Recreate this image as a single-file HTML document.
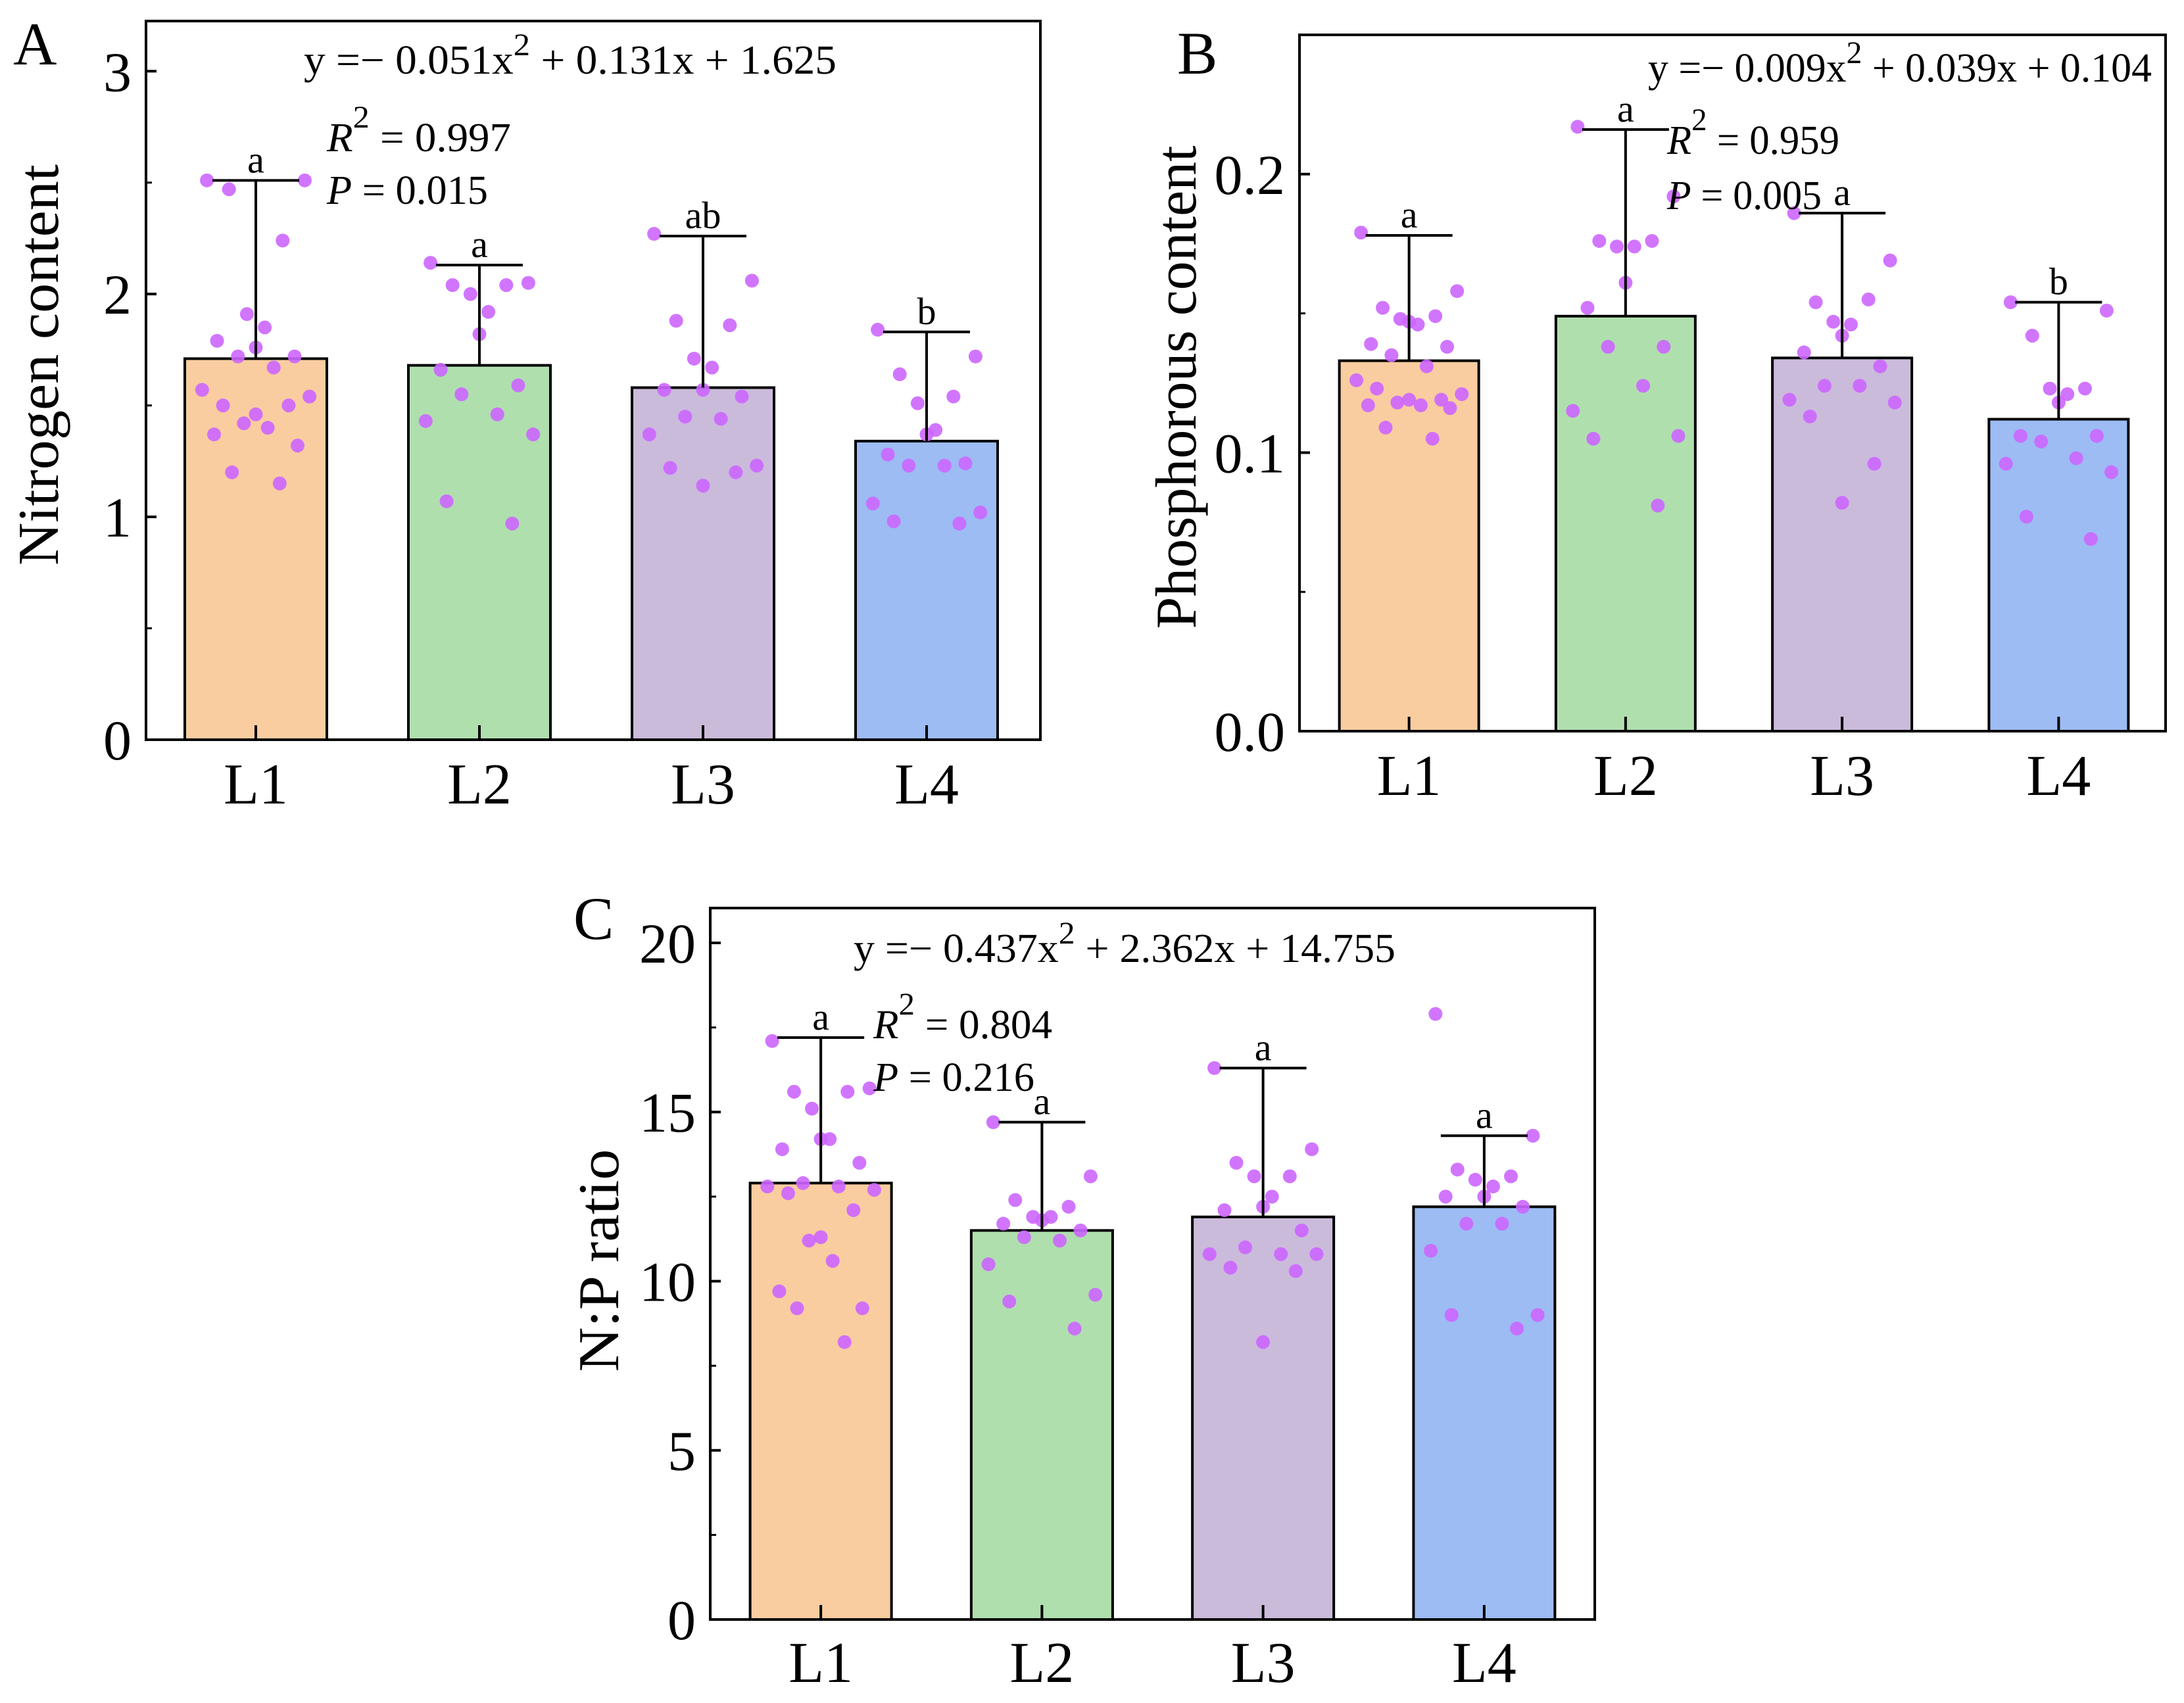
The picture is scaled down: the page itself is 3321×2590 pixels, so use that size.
<!DOCTYPE html>
<html><head><meta charset="utf-8"><style>
html,body{margin:0;padding:0;background:#fff;}
svg{display:block;font-family:"Liberation Serif",serif;}
</style></head><body>
<svg id="fig" width="3321" height="2590" viewBox="0 0 3321 2590" xmlns="http://www.w3.org/2000/svg"></svg>
<script>
const categories = ["L1","L2","L3","L4"];
// Panel A: nitrogen
const nMeans = [1.71,1.68,1.58,1.34];
const nErrTop = [2.51,2.13,2.26,1.83];
const nLetters = ["a","a","ab","b"];
const nTicks = [0,1,2,3];
const nTickLabels = ["0","1","2","3"];
const nPoints = [
 [2.51,2.51,2.47,2.24,1.91,1.85,1.76,1.79,1.72,1.72,1.67,1.57,1.54,1.50,1.50,1.46,1.42,1.40,1.37,1.32,1.20,1.15],
 [2.14,2.05,2.04,2.04,2.00,1.92,1.82,1.66,1.59,1.55,1.46,1.43,1.37,1.07,0.97],
 [2.27,2.06,1.88,1.86,1.71,1.67,1.57,1.57,1.54,1.45,1.44,1.37,1.23,1.22,1.20,1.14],
 [1.84,1.72,1.64,1.54,1.51,1.39,1.37,1.28,1.24,1.23,1.23,1.06,1.02,0.98,0.97]];
// Panel B: phosphorus
const pMeans = [0.133,0.149,0.134,0.112];
const pErrTop = [0.178,0.216,0.186,0.154];
const pLetters = ["a","a","a","b"];
const pTicks = [0,0.1,0.2];
const pTickLabels = ["0.0","0.1","0.2"];
const pPoints = [
 [0.179,0.158,0.152,0.149,0.148,0.146,0.147,0.139,0.138,0.135,0.131,0.126,0.121,0.123,0.119,0.119,0.118,0.117,0.117,0.116,0.109,0.105],
 [0.217,0.192,0.176,0.176,0.174,0.174,0.161,0.152,0.138,0.138,0.124,0.115,0.106,0.105,0.081],
 [0.186,0.169,0.154,0.155,0.147,0.146,0.142,0.136,0.131,0.124,0.124,0.119,0.118,0.113,0.096,0.082],
 [0.154,0.151,0.142,0.123,0.123,0.121,0.118,0.106,0.106,0.104,0.098,0.096,0.093,0.077,0.069]];
// Panel C: N:P
const rMeans = [12.9,11.5,11.9,12.2];
const rErrTop = [17.2,14.7,16.3,14.3];
const rLetters = ["a","a","a","a"];
const rTicks = [0,5,10,15,20];
const rTickLabels = ["0","5","10","15","20"];
const rPoints = [
 [17.1,15.7,15.6,15.6,15.1,14.2,14.2,13.9,13.5,12.9,12.8,12.8,12.7,12.6,12.1,11.3,11.2,10.6,9.7,9.2,9.2,8.2],
 [14.7,13.1,12.4,12.2,11.9,11.9,11.8,11.7,11.5,11.3,11.2,10.5,9.6,9.4,8.6],
 [16.3,13.9,13.5,13.1,13.1,12.5,12.2,12.1,11.5,11.0,10.8,10.8,10.8,10.4,10.3,8.2],
 [17.9,14.3,13.3,13.1,13.0,12.8,12.5,12.5,12.2,11.7,11.7,10.9,9.0,9.0,8.6]];

const colors = ["#f9cda0","#b0dfae","#cbbbdb","#9dbcf3"];
const NS = "http://www.w3.org/2000/svg";
const svg = document.getElementById('fig');
function mk(tag, attrs, parent, text){
  const e = document.createElementNS(NS, tag);
  for (const k in attrs) e.setAttribute(k, attrs[k]);
  if (text !== undefined) e.textContent = text;
  (parent||svg).appendChild(e); return e;
}
const jit = [-0.82,0.82,-0.45,0.45,-0.15,0.15,0,-0.65,0.65,-0.3,0.3,-0.9,0.9,-0.55,0.55,0,-0.2,0.2,-0.7,0.7,-0.4,0.4];

function panel(cfg){
  const g = mk('g', {});
  
  
  const y = v => cfg.y0 - (v - 0) / cfg.ymax * (cfg.y0 - cfg.yTop);
  const step = (cfg.x1 - cfg.x0) / 4;
  const xc = i => cfg.x0 + step * (i + 0.5) + cfg.shift;
  categories.forEach((c,i)=>{
    const b = mk('rect', {x: xc(i)-cfg.bw/2, y: y(cfg.means[i]), width: cfg.bw, height: y(0)-y(cfg.means[i]), fill: colors[i], stroke:'#000','stroke-width':4}, g);
    
    
  });
  categories.forEach((c,i)=>{
    cfg.points[i].forEach((v,j)=>{
      const p = mk('circle', {cx: xc(i) + jit[j % jit.length]*cfg.bw*0.42, cy: y(v), r: 10.5, fill:'#cc66ff', opacity:0.9}, g);
      
      
    });
  });
  categories.forEach((c,i)=>{
    const eg = mk('g', {stroke:'#000','stroke-width':4}, g);
    
    
    mk('line', {x1: xc(i), x2: xc(i), y1: y(cfg.means[i]), y2: y(cfg.errTop[i])}, eg);
    mk('line', {x1: xc(i)-66, x2: xc(i)+66, y1: y(cfg.errTop[i]), y2: y(cfg.errTop[i])}, eg);
    const t = mk('text', {x: xc(i), y: y(cfg.errTop[i]) - 12, 'font-size': 58, 'text-anchor':'middle'}, g, cfg.letters[i]);
    
    
  });
  const fr = mk('rect', {x: cfg.x0, y: cfg.yTop, width: cfg.x1-cfg.x0, height: cfg.y0-cfg.yTop, fill:'none', stroke:'#000','stroke-width':4}, g);
  
  
  cfg.ticks.forEach((v,k)=>{
    mk('line', {x1: cfg.x0, x2: cfg.x0+16, y1: y(v), y2: y(v), stroke:'#000','stroke-width':4}, g);
    const mv = v + cfg.minor;
    if (mv < cfg.ymax) mk('line', {x1: cfg.x0, x2: cfg.x0+9, y1: y(mv), y2: y(mv), stroke:'#000','stroke-width':3}, g);
    const t = mk('text', {x: cfg.x0 - 22, y: y(v) + 30, 'font-size': 86, 'text-anchor':'end'}, g, cfg.tickLabels[k]);
    
    
  });
  categories.forEach((c,i)=>{
    mk('line', {x1: xc(i), x2: xc(i), y1: cfg.y0, y2: cfg.y0-22, stroke:'#000','stroke-width':4}, g);
    const t = mk('text', {x: xc(i), y: cfg.xlabY, 'font-size': 88, 'text-anchor':'middle'}, g, c);
    
    
  });
  const yt = mk('text', {x:0, y:0, 'font-size': 88, 'text-anchor':'middle', textLength: cfg.ylabLen, lengthAdjust:'spacingAndGlyphs', transform:`translate(${cfg.ylabX},${cfg.ylabY}) rotate(-90)`}, g, cfg.ylab);
  
  
  const pl = mk('text', {x: cfg.letX, y: cfg.letY, 'font-size': 92}, g, cfg.letter);
  
  
  const eq = mk('text', {x: cfg.eqX, y: cfg.eqY, 'font-size': 62, textLength: cfg.eqLen, lengthAdjust:'spacingAndGlyphs'}, g);
  
  
  mk('tspan', {}, eq, cfg.eq[0]);
  mk('tspan', {dy: -28, 'font-size': 48}, eq, '2');
  mk('tspan', {dy: 28}, eq, cfg.eq[1]);
  const r2 = mk('text', {x: cfg.rX, y: cfg.rY, 'font-size': 62, textLength: cfg.rLen, lengthAdjust:'spacingAndGlyphs'}, g);
  
  
  mk('tspan', {'font-style':'italic'}, r2, 'R');
  mk('tspan', {dy:-36, 'font-size':48}, r2, '2');
  mk('tspan', {dy:36}, r2, ' = ' + cfg.r2);
  const pv = mk('text', {x: cfg.rX, y: cfg.pY, 'font-size': 62, textLength: cfg.pLen, lengthAdjust:'spacingAndGlyphs'}, g);
  
  
  mk('tspan', {'font-style':'italic'}, pv, 'P');
  mk('tspan', {}, pv, ' = ' + cfg.p);
}

panel({name:'panel-a-nitrogen', x0:222, x1:1582, yTop:32, y0:1125, ymax:3.225, minor:0.5, shift:-3, bw:216,
  means:nMeans, errTop:nErrTop, letters:nLetters, points:nPoints, ticks:nTicks, tickLabels:nTickLabels,
  xlabY:1222, ylab:'Nitrogen content', ylabX:88, ylabY:555, ylabLen:610, letter:'A', letX:20, letY:98,
  eq:['y =− 0.051x',' + 0.131x + 1.625'], eqX:462, eqY:112, eqLen:810,
  r2:'0.997', p:'0.015', rX:497, rY:230, pY:310, rLen:280, pLen:245});
panel({name:'panel-b-phosphorus', x0:1976, x1:3293, yTop:53, y0:1112, ymax:0.25, minor:0.05, shift:2, bw:212,
  means:pMeans, errTop:pErrTop, letters:pLetters, points:pPoints, ticks:pTicks, tickLabels:pTickLabels,
  xlabY:1209, ylab:'Phosphorous content', ylabX:1818, ylabY:589, ylabLen:735, letter:'B', letX:1790, letY:112,
  eq:['y =− 0.009x',' + 0.039x + 0.104'], eqX:2506, eqY:124, eqLen:766,
  r2:'0.959', p:'0.005', rX:2535, rY:234, pY:318, rLen:262, pLen:235});
panel({name:'panel-c-np-ratio', x0:1080, x1:2425, yTop:1381, y0:2463, ymax:21.03, minor:2.5, shift:0, bw:215,
  means:rMeans, errTop:rErrTop, letters:rLetters, points:rPoints, ticks:rTicks, tickLabels:rTickLabels,
  xlabY:2558, ylab:'N:P ratio', ylabX:940, ylabY:1917, ylabLen:339, letter:'C', letX:872, letY:1428,
  eq:['y =− 0.437x',' + 2.362x + 14.755'], eqX:1298, eqY:1463, eqLen:824,
  r2:'0.804', p:'0.216', rX:1328, rY:1579, pY:1659, rLen:272, pLen:245});
</script>
</body></html>
